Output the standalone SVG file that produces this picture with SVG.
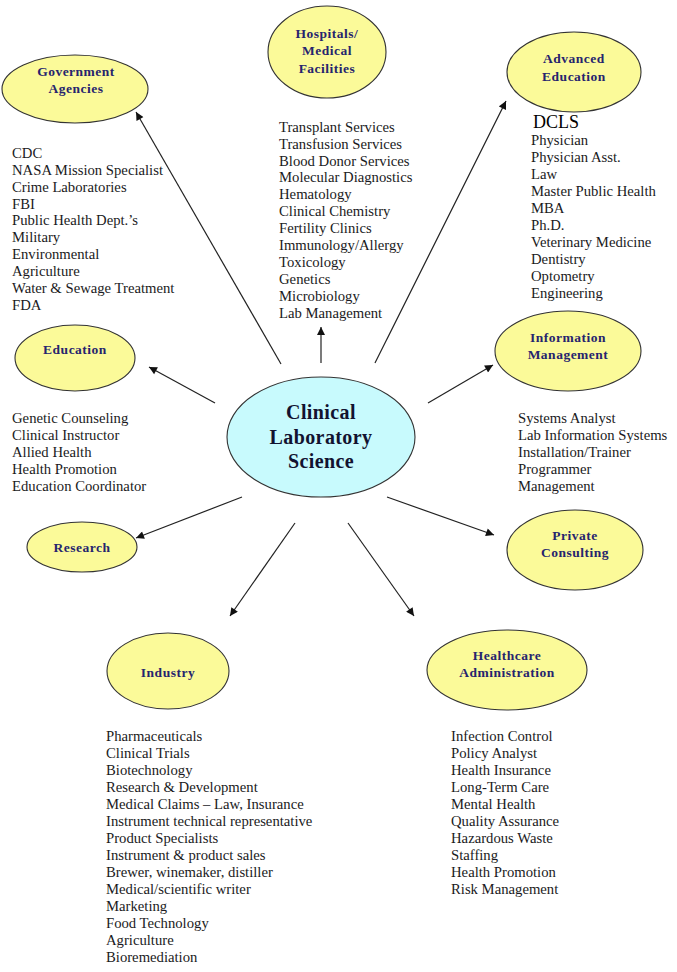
<svg xmlns="http://www.w3.org/2000/svg" width="677" height="972" viewBox="0 0 677 972">
<defs>
<marker id="ah" viewBox="0 0 10 10" refX="10" refY="5" markerWidth="10" markerHeight="8" markerUnits="userSpaceOnUse" orient="auto">
<path d="M0,0 L10,5 L0,10 z" fill="#111"/>
</marker>
</defs>
<style>
.node{fill:#fbfa99;stroke:#333;stroke-width:1.1}
.center{fill:#c8fafd;stroke:#333;stroke-width:1.1}
.lbl{font-family:"Liberation Serif","Times New Roman",serif;font-weight:bold;font-size:13.5px;letter-spacing:0.5px;fill:#26246e;text-anchor:middle}
.clbl{font-family:"Liberation Serif","Times New Roman",serif;font-weight:bold;font-size:20px;letter-spacing:0.4px;fill:#121230;text-anchor:middle}
.list{font-family:"Liberation Serif","Times New Roman",serif;font-size:14.7px;fill:#1a1a22}
.conn line{stroke:#222;stroke-width:1.2;marker-end:url(#ah)}
</style>
<rect width="677" height="972" fill="#fff"/>
<g id="connectors" class="conn">
<line x1="281" y1="364" x2="136" y2="112"/>
<line x1="321" y1="363" x2="321" y2="327"/>
<line x1="375" y1="363" x2="506" y2="101"/>
<line x1="215" y1="403" x2="149" y2="367"/>
<line x1="428" y1="403" x2="493" y2="365"/>
<line x1="242" y1="497" x2="136" y2="538"/>
<line x1="387" y1="497" x2="494" y2="535"/>
<line x1="295" y1="523" x2="230" y2="616"/>
<line x1="348" y1="523" x2="414" y2="616"/>
</g>
<g id="clinical-laboratory-science">
<ellipse class="center" cx="321" cy="437" rx="94" ry="60"/>
<text class="clbl" x="321" y="419">Clinical</text>
<text class="clbl" x="321" y="444">Laboratory</text>
<text class="clbl" x="321" y="468">Science</text>
</g>
<g id="government-agencies">
<ellipse class="node" cx="75" cy="89" rx="73" ry="34"/>
<text class="lbl" x="76" y="76">Government</text>
<text class="lbl" x="76" y="93">Agencies</text>
<text class="list" x="12" y="158">CDC</text>
<text class="list" x="12" y="175">NASA Mission Specialist</text>
<text class="list" x="12" y="192">Crime Laboratories</text>
<text class="list" x="12" y="209">FBI</text>
<text class="list" x="12" y="225">Public Health Dept.’s</text>
<text class="list" x="12" y="242">Military</text>
<text class="list" x="12" y="259">Environmental</text>
<text class="list" x="12" y="276">Agriculture</text>
<text class="list" x="12" y="293">Water &amp; Sewage Treatment</text>
<text class="list" x="12" y="310">FDA</text>
</g>
<g id="hospitals">
<ellipse class="node" cx="327" cy="52" rx="59" ry="46"/>
<text class="lbl" x="327" y="38">Hospitals/</text>
<text class="lbl" x="327" y="55">Medical</text>
<text class="lbl" x="327" y="73">Facilities</text>
<text class="list" x="279" y="132">Transplant  Services</text>
<text class="list" x="279" y="149">Transfusion Services</text>
<text class="list" x="279" y="166">Blood Donor Services</text>
<text class="list" x="279" y="182">Molecular Diagnostics</text>
<text class="list" x="279" y="199">Hematology</text>
<text class="list" x="279" y="216">Clinical  Chemistry</text>
<text class="list" x="279" y="233">Fertility Clinics</text>
<text class="list" x="279" y="250">Immunology/Allergy</text>
<text class="list" x="279" y="267">Toxicology</text>
<text class="list" x="279" y="284">Genetics</text>
<text class="list" x="279" y="301">Microbiology</text>
<text class="list" x="279" y="318">Lab Management</text>
</g>
<g id="advanced-education">
<ellipse class="node" cx="574" cy="72" rx="67" ry="40"/>
<text class="lbl" x="574" y="63">Advanced</text>
<text class="lbl" x="574" y="81">Education</text>
<text x="533" y="128" style="font-family:'Liberation Serif','Times New Roman',serif;font-size:18px;fill:#000">DCLS</text>
<text class="list" x="531" y="145">Physician</text>
<text class="list" x="531" y="162">Physician Asst.</text>
<text class="list" x="531" y="179">Law</text>
<text class="list" x="531" y="196">Master Public Health</text>
<text class="list" x="531" y="213">MBA</text>
<text class="list" x="531" y="230">Ph.D.</text>
<text class="list" x="531" y="247">Veterinary Medicine</text>
<text class="list" x="531" y="264">Dentistry</text>
<text class="list" x="531" y="281">Optometry</text>
<text class="list" x="531" y="298">Engineering</text>
</g>
<g id="education">
<ellipse class="node" cx="75" cy="358" rx="60" ry="33"/>
<text class="lbl" x="75" y="354">Education</text>
<text class="list" x="12" y="423">Genetic Counseling</text>
<text class="list" x="12" y="440">Clinical Instructor</text>
<text class="list" x="12" y="457">Allied Health</text>
<text class="list" x="12" y="474">Health Promotion</text>
<text class="list" x="12" y="491">Education Coordinator</text>
</g>
<g id="information-management">
<ellipse class="node" cx="568" cy="351" rx="73" ry="40"/>
<text class="lbl" x="568" y="342">Information</text>
<text class="lbl" x="568" y="359">Management</text>
<text class="list" x="518" y="423">Systems Analyst</text>
<text class="list" x="518" y="440">Lab Information Systems</text>
<text class="list" x="518" y="457">Installation/Trainer</text>
<text class="list" x="518" y="474">Programmer</text>
<text class="list" x="518" y="491">Management</text>
</g>
<g id="research">
<ellipse class="node" cx="82" cy="547" rx="55" ry="25"/>
<text class="lbl" x="82" y="552">Research</text>
</g>
<g id="private-consulting">
<ellipse class="node" cx="575" cy="550" rx="68" ry="40"/>
<text class="lbl" x="575" y="540">Private</text>
<text class="lbl" x="575" y="557">Consulting</text>
</g>
<g id="industry">
<ellipse class="node" cx="168" cy="671" rx="61" ry="38"/>
<text class="lbl" x="168" y="677">Industry</text>
<text class="list" x="106" y="741">Pharmaceuticals</text>
<text class="list" x="106" y="758">Clinical Trials</text>
<text class="list" x="106" y="775">Biotechnology</text>
<text class="list" x="106" y="792">Research &amp; Development</text>
<text class="list" x="106" y="809">Medical Claims – Law, Insurance</text>
<text class="list" x="106" y="826">Instrument technical representative</text>
<text class="list" x="106" y="843">Product Specialists</text>
<text class="list" x="106" y="860">Instrument &amp; product sales</text>
<text class="list" x="106" y="877">Brewer, winemaker, distiller</text>
<text class="list" x="106" y="894">Medical/scientific writer</text>
<text class="list" x="106" y="911">Marketing</text>
<text class="list" x="106" y="928">Food Technology</text>
<text class="list" x="106" y="945">Agriculture</text>
<text class="list" x="106" y="962">Bioremediation</text>
</g>
<g id="healthcare-administration">
<ellipse class="node" cx="507" cy="670" rx="80" ry="40"/>
<text class="lbl" x="507" y="660">Healthcare</text>
<text class="lbl" x="507" y="677">Administration</text>
<text class="list" x="451" y="741">Infection Control</text>
<text class="list" x="451" y="758">Policy Analyst</text>
<text class="list" x="451" y="775">Health Insurance</text>
<text class="list" x="451" y="792">Long-Term Care</text>
<text class="list" x="451" y="809">Mental Health</text>
<text class="list" x="451" y="826">Quality Assurance</text>
<text class="list" x="451" y="843">Hazardous Waste</text>
<text class="list" x="451" y="860">Staffing</text>
<text class="list" x="451" y="877">Health Promotion</text>
<text class="list" x="451" y="894">Risk Management</text>
</g>
</svg>
